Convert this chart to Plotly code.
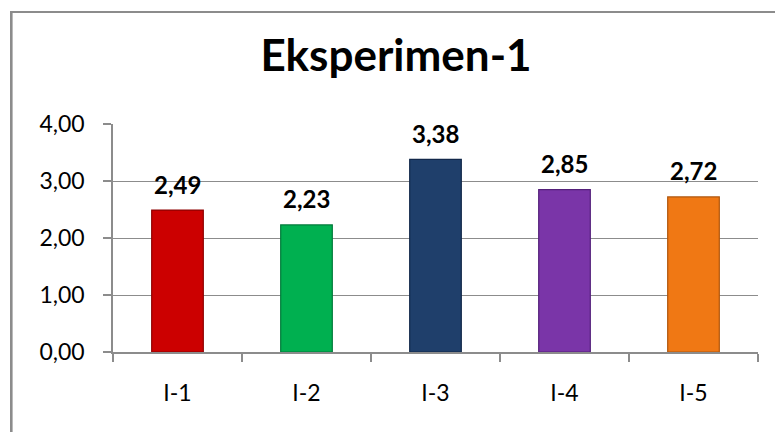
import plotly.graph_objects as go

categories = ["I-1", "I-2", "I-3", "I-4", "I-5"]
values = [2.49, 2.23, 3.38, 2.85, 2.72]
bar_colors = ["#CC0000", "#00B050", "#1F3F6B", "#7A35A8", "#F07814"]
edge_colors = ["#8E0000", "#007A3A", "#12284A", "#54207A", "#B0560C"]
y_ticks = [0, 1, 2, 3, 4]
title_text = "Eksperimen-1"

W, H = 775, 432
L, R, T, B = 113, 17, 124, 80
pw, ph = W - L - R, H - T - B

def px_to_paper_x(px):
    return (px - L) / pw

def px_to_paper_y(py):
    return (H - B - py) / ph

fig = go.Figure()
fig.add_trace(go.Bar(
    x=categories, y=values,
    marker=dict(color=bar_colors, line=dict(color=edge_colors, width=1.2)),
    width=0.4,
    hoverinfo="skip",
))

for c, v in zip(categories, values):
    fig.add_annotation(
        x=c, y=v, text=f"<b>{v:.2f}</b>".replace(".", ","),
        showarrow=False, yshift=26, yanchor="middle",
        font=dict(family="Lato", size=24, color="#000000"),
    )

# outer chart frame (cropped on right/bottom)
gray = "#8C8C8C"
fig.add_shape(type="line", xref="paper", yref="paper",
              x0=px_to_paper_x(11.3), x1=px_to_paper_x(11.3),
              y0=px_to_paper_y(11), y1=px_to_paper_y(440),
              line=dict(color=gray, width=2.6))
fig.add_shape(type="line", xref="paper", yref="paper",
              x0=px_to_paper_x(10), x1=px_to_paper_x(790),
              y0=px_to_paper_y(12), y1=px_to_paper_y(12),
              line=dict(color=gray, width=2))

fig.update_layout(
    width=W, height=H,
    margin=dict(l=L, r=R, t=T, b=B),
    paper_bgcolor="white", plot_bgcolor="white",
    separators=",.",
    showlegend=False,
    title=dict(text=f"<b>{title_text}</b>", x=396 / W, xref="container",
               xanchor="center", y=1 - 56 / H, yref="container", yanchor="middle",
               font=dict(family="Lato", size=44, color="#000000")),
    font=dict(family="Lato", color="#000000"),
)
fig.update_xaxes(
    showline=True, linecolor=gray, linewidth=1.5,
    ticks="outside", tickson="boundaries", ticklen=8, tickcolor=gray, tickwidth=1.5,
    tickfont=dict(family="Lato", size=23, color="#000000"),
    ticklabelstandoff=20,
    showgrid=False,
)
fig.update_yaxes(
    range=[0, 4], tickvals=y_ticks, tickformat=".2f",
    showline=True, linecolor=gray, linewidth=1.5,
    ticks="outside", ticklen=8, tickcolor=gray, tickwidth=1.5,
    showgrid=True, gridcolor=gray, gridwidth=1.2,
    tickfont=dict(family="Lato", size=23, color="#000000"),
    ticklabelstandoff=14,
    zeroline=False,
)

fig.write_html("out.html")
